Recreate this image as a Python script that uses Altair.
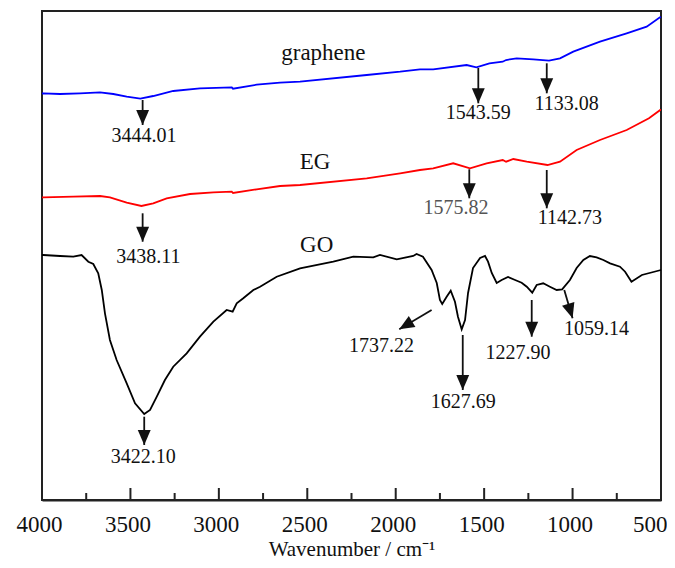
import altair as alt
import pandas as pd

# ---------------- data ----------------
# y values are relative transmittance in arbitrary units (curves offset)
gr_wn = [4000, 3993, 3898, 3785, 3672, 3597, 3521, 3444, 3371, 3258, 3107, 2927, 2920,
         2786, 2654, 2541, 2164, 1975, 1863, 1788, 1599, 1544, 1470, 1395, 1376, 1316,
         1222, 1133, 1071, 996, 845, 694, 581, 506, 500]
gr_y = [406.5, 406.7, 406.0, 406.7, 407.7, 406.0, 403.3, 401.3, 404.0, 409.0, 411.7, 412.7, 411.3,
        415.3, 417.3, 418.3, 425.0, 428.3, 430.7, 430.7, 435.0, 432.7, 436.7, 438.3, 440.0, 441.7,
        440.7, 439.3, 441.7, 448.3, 458.3, 466.7, 473.3, 482.7, 483.0]

eg_wn = [4000, 3993, 3823, 3672, 3616, 3521, 3438, 3371, 3295, 3163, 3031, 2927, 2920,
         2786, 2654, 2541, 2164, 1975, 1863, 1788, 1675, 1580, 1486, 1395, 1376, 1335,
         1259, 1142, 1071, 977, 845, 694, 568, 504, 500]
eg_y = [302.7, 302.7, 303.3, 304.0, 302.7, 297.3, 294.0, 296.7, 301.7, 306.0, 307.7, 308.3, 307.0,
        310.7, 314.0, 315.0, 321.7, 326.7, 330.0, 331.7, 336.7, 331.7, 336.7, 340.0, 338.3, 341.0,
        338.3, 335.0, 338.3, 350.0, 360.0, 370.0, 381.7, 390.0, 390.0]

go_wn = [4000, 3993, 3898, 3823, 3776, 3738, 3710, 3682, 3662, 3644, 3616, 3578, 3521, 3474,
         3422, 3389, 3351, 3305, 3258, 3182, 3107, 3031, 2956, 2922, 2899, 2862, 2805, 2767,
         2673, 2541, 2353, 2240, 2127, 2089, 1994, 1901, 1882, 1846, 1797, 1768, 1750, 1737,
         1712, 1689, 1665, 1648, 1627, 1608, 1591, 1563, 1523, 1495, 1478, 1457, 1429, 1401,
         1365, 1325, 1288, 1259, 1228, 1203, 1166, 1128, 1090, 1059, 1015, 977, 939, 902,
         864, 826, 788, 732, 703, 667, 608, 500]
go_y = [245.0, 245.0, 244.0, 243.3, 245.0, 238.3, 236.0, 226.7, 210.0, 186.7, 160.0, 140.0, 116.7, 96.7,
        86.0, 90.0, 103.3, 120.0, 133.3, 146.7, 163.3, 178.3, 190.0, 188.3, 196.7, 201.7, 210.0, 213.3,
        223.3, 231.7, 238.3, 243.3, 242.7, 245.0, 240.7, 244.0, 246.0, 243.3, 230.0, 217.0, 200.0, 196.0,
        203.3, 209.3, 198.3, 183.3, 170.7, 180.0, 207.0, 232.0, 242.0, 244.0, 238.3, 227.0, 217.0, 220.0,
        223.0, 220.0, 217.3, 213.3, 207.3, 215.0, 216.7, 213.3, 210.0, 210.7, 220.0, 232.0, 240.0, 244.0,
        242.7, 240.0, 236.7, 233.3, 228.3, 218.3, 225.0, 230.0]

series_names = ["graphene", "EG", "GO"]
series_colors = ["#0000ff", "#ff0000", "#000000"]

# curve name labels
name_text = ["graphene", "EG", "GO"]
name_x = [2409, 2456, 2447]
name_y = [446.7, 338.3, 255.0]

# peak annotations: arrow start (x1, y1) -> tip (x2, y2), head angle, label position
ann_text = ["3444.01", "1543.59", "1133.08", "3438.11", "1575.82", "1142.73",
            "3422.10", "1737.22", "1627.69", "1227.90", "1059.14"]
ann_x1 = [3431, 1533, 1146, 3431, 1584, 1146, 3422, 1797, 1621, 1231, 1047]
ann_y1 = [400.0, 432.0, 436.7, 286.7, 330.7, 330.0, 83.3, 190.0, 165.0, 200.0, 210.0]
ann_x2 = [3431, 1533, 1146, 3431, 1584, 1146, 3422, 1980, 1621, 1231, 1000]
ann_y2 = [375.0, 396.7, 406.7, 258.3, 301.7, 291.7, 55.0, 170.7, 110.0, 163.3, 181.7]
ann_angle = [0, 0, 0, 0, 0, 0, 0, 59, 0, 0, 343]
ann_lx = [3423, 1533, 1033, 3399, 1659, 1015, 3427, 2080, 1618, 1309, 864]
ann_ly = [364.0, 386.7, 396.0, 243.3, 291.7, 281.7, 43.3, 154.0, 98.3, 146.7, 170.7]
ann_color = ["#111111", "#111111", "#111111", "#111111", "#555555", "#111111",
             "#111111", "#111111", "#111111", "#111111", "#111111"]

major_ticks = [3500, 3000, 2500, 2000, 1500, 1000]
minor_ticks = [3750, 3250, 2750, 2250, 1750, 1250, 750]
x_tick_values = [4000, 3500, 3000, 2500, 2000, 1500, 1000, 500]

# ---------------- tables ----------------
curves = pd.concat([
    pd.DataFrame({"wn": gr_wn, "T": gr_y, "sample": "graphene"}),
    pd.DataFrame({"wn": eg_wn, "T": eg_y, "sample": "EG"}),
    pd.DataFrame({"wn": go_wn, "T": go_y, "sample": "GO"}),
])
names = pd.DataFrame({"name": name_text, "x": name_x, "y": name_y})
ann = pd.DataFrame({"text": ann_text, "x1": ann_x1, "y1": ann_y1, "x2": ann_x2, "y2": ann_y2,
                    "angle": ann_angle, "lx": ann_lx, "ly": ann_ly, "color": ann_color})

W, H = 619, 489
FONT = "Liberation Serif"

xscale = alt.Scale(domain=[4000, 500], nice=False, zero=False)
yscale = alt.Scale(domain=[0, 489], nice=False, zero=False)

x_axis = alt.Axis(values=x_tick_values, format="d", title="Wavenumber / cm\u207b\u00b9",
                  labelFont=FONT, labelFontSize=23, labelColor="#111111",
                  labelFlush=False, labelPadding=13,
                  labelAlign=alt.condition("datum.value == 500", alt.value("right"), alt.value("center")),
                  labelOffset=alt.condition("datum.value == 500", alt.value(6), alt.value(-3)),
                  ticks=False, grid=False, domainColor="#222222", domainWidth=2,
                  titleFont=FONT, titleFontSize=21, titleFontWeight="normal",
                  titleColor="#111111", titlePadding=2)

base = alt.Chart(curves)

lines = base.mark_line(strokeWidth=1.8).encode(
    x=alt.X("wn:Q", scale=xscale, axis=x_axis),
    y=alt.Y("T:Q", scale=yscale, axis=None),
    color=alt.Color("sample:N", scale=alt.Scale(domain=series_names, range=series_colors),
                    legend=None),
    detail="sample:N",
)

# inward-pointing ticks on the bottom frame
major_rules = alt.Chart(pd.DataFrame({"v": major_ticks})).mark_rule(
    color="#222222", strokeWidth=2).encode(
    x=alt.X("v:Q", scale=xscale), y=alt.value(H), y2=alt.value(H - 12))
minor_rules = alt.Chart(pd.DataFrame({"v": minor_ticks})).mark_rule(
    color="#222222", strokeWidth=2).encode(
    x=alt.X("v:Q", scale=xscale), y=alt.value(H), y2=alt.value(H - 7))

name_labels = alt.Chart(names).mark_text(font=FONT, fontSize=23, color="#111111",
                                         align="center", baseline="middle").encode(
    x=alt.X("x:Q", scale=xscale), y=alt.Y("y:Q", scale=yscale), text="name:N")

shafts = alt.Chart(ann).mark_rule(color="#111111", strokeWidth=1.8).encode(
    x=alt.X("x1:Q", scale=xscale), y=alt.Y("y1:Q", scale=yscale),
    x2="x2:Q", y2="y2:Q")

heads = alt.Chart(ann).mark_point(
    shape="M0,0L-0.43,-1L0.43,-1Z", filled=True, opacity=1, size=900,
    color="#111111", strokeWidth=0).encode(
    x=alt.X("x2:Q", scale=xscale), y=alt.Y("y2:Q", scale=yscale),
    angle=alt.Angle("angle:Q", scale=None))

ann_labels = alt.Chart(ann).mark_text(font=FONT, fontSize=20, align="center",
                                      baseline="middle").encode(
    x=alt.X("lx:Q", scale=xscale), y=alt.Y("ly:Q", scale=yscale), text="text:N",
    color=alt.Color("color:N", scale=None))

chart = alt.layer(
    lines, major_rules, minor_rules, name_labels, shafts, heads, ann_labels
).properties(
    width=W, height=H,
    autosize=alt.AutoSizeParams(type="none"),
    padding={"left": 34, "top": 3, "right": 6, "bottom": 59},
    background="white",
).configure_view(
    stroke="#222222", strokeWidth=2
)

chart.save("out.html", embed_options={"renderer": "svg", "actions": False})
